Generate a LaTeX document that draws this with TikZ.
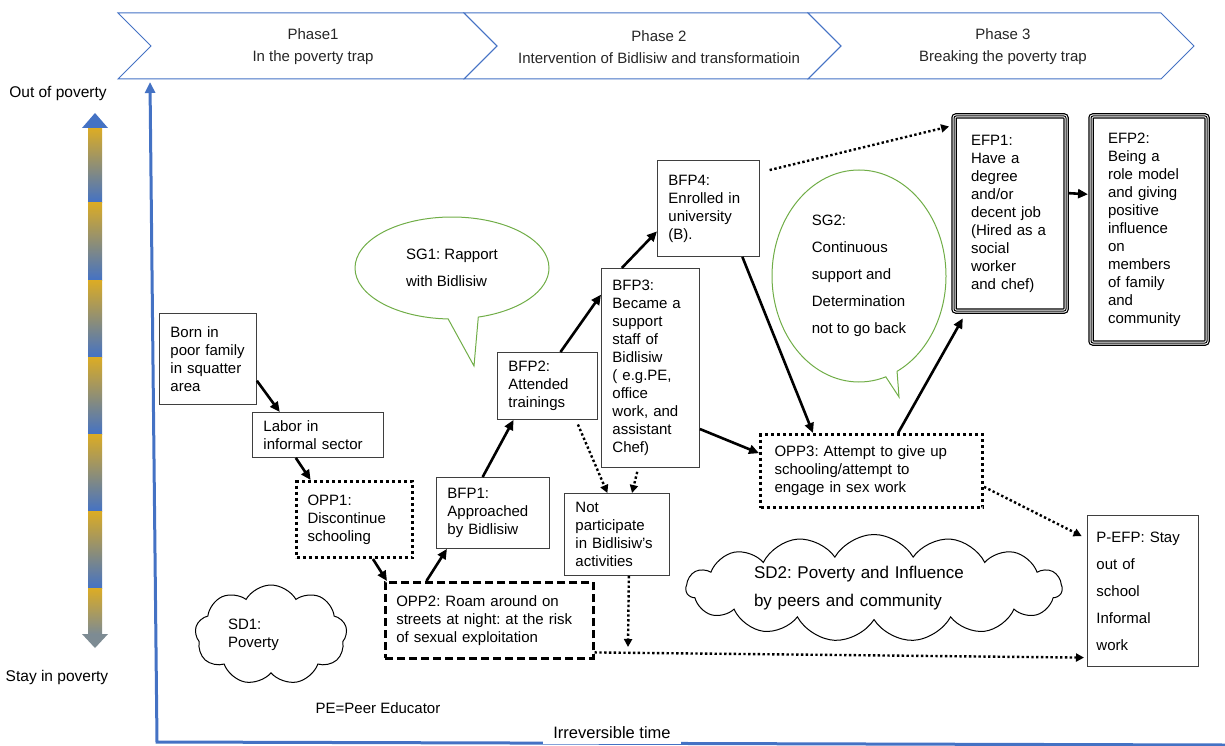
\documentclass[tikz,border=0pt]{standalone}
\usepackage{fontspec}
\setmainfont{Liberation Sans}
\frenchspacing
\usepackage{tikz}
\usetikzlibrary{
  arrows.meta, positioning,
  shapes.symbols, shapes.callouts
}
\definecolor{phaseblue} {HTML}{4472C4}
\definecolor{leafgreen} {HTML}{70AD47}
\definecolor{goldbar}   {HTML}{DCAC24}
\definecolor{slatehead} {HTML}{7D8B93}
\definecolor{boxline}   {HTML}{3F3F3F}
\definecolor{inktext}   {HTML}{262626}
\tikzset{
  stepbox/.style={
    rectangle, anchor=north west, align=left,
    inner xsep=11pt, inner ysep=0pt,
    font=\fontsize{15}{18}\selectfont,
    draw=boxline, line width=0.9pt, text=black
  },
  riskbox/.style={
    stepbox, draw=black, line width=3pt,
    dash pattern=on 3pt off 3pt
  },
  roambox/.style={
    stepbox, draw=black, line width=2.5pt,
    dash pattern=on 8pt off 4pt
  },
  goalbox/.style={
    stepbox, draw=black, line width=1pt, rounded corners=2pt,
    outer sep=3pt, inner xsep=17pt,
    preaction={draw=black, line width=5.5pt},
    preaction={draw=white, line width=3pt}
  },
  sgcall/.style={
    ellipse callout, draw=leafgreen, line width=1pt,
    inner sep=0pt, align=left, callout pointer arc=18,
    font=\fontsize{15}{27}\selectfont
  },
  sdcloud/.style={
    cloud, cloud ignores aspect, cloud puff arc=120,
    draw=black, line width=1pt, inner sep=0pt, align=left
  },
  flowarrow/.style={-{Triangle[length=10pt,width=9pt]}, line width=2.6pt},
  dotarrow/.style={-{Triangle[length=8pt,width=8pt]}, line width=2.4pt,
    dash pattern=on 2.4pt off 2.4pt}
}

\begin{document}
\begin{tikzpicture}[
  x=1pt, y=-1pt,
  every node/.style={align=center},
  phaseline/.style={draw=phaseblue, line width=1pt},
  phasetext/.style={text=inktext, font=\fontsize{15}{22}\selectfont},
  axisline/.style={draw=phaseblue, line width=3pt},
  sidelabel/.style={font=\fontsize{15.5}{18}\selectfont}
]
  \useasboundingbox (0,0) rectangle (1225,746);

  % phases along the top
  \foreach \xa/\xb in {118/464, 464/808, 808/1161}{
    \draw[phaseline] (\xa,13) -- (\xb,13) -- (\xb+33,46)
      -- (\xb,79) -- (\xa,79) -- (\xa+33,46) -- cycle;
  }
  \node[phasetext] (ph1) at (313,47) {Phase1\\In the poverty trap};
  \node[phasetext] (ph2) at (659,47)
    {Phase 2\\Intervention of Bidlisiw and transformatioin};
  \node[phasetext] (ph3) at (1003,47) {Phase 3\\Breaking the poverty trap};

  % axes
  \coordinate (orig) at (157,742);
  \coordinate (ytip) at (150,82);
  \coordinate (xend) at (1225,745);
  \draw[axisline, {Triangle[length=11pt,width=10pt]}-] (ytip) -- (orig) -- (xend);
  \node[fill=white, inner xsep=10pt, inner ysep=5pt,
        font=\fontsize{16.5}{18}\selectfont] (timelbl) at (612,733)
    {Irreversible time};

  % poverty scale
  \foreach \ya/\yb in {128/202, 202/280, 280/357, 357/434, 434/511, 511/588}{
    \shade[top color=goldbar, bottom color=phaseblue] (88,\ya) rectangle (102,\yb);
  }
  \shade[top color=goldbar, bottom color=slatehead] (88,588) rectangle (102,634);
  \fill[phaseblue] (82,128) -- (95,113) -- (108,128) -- cycle;
  \fill[slatehead] (82,634) -- (95,648) -- (108,634) -- cycle;
  \node[sidelabel] (outpov) at (58,94) {Out of poverty};
  \node[sidelabel] (staypov) at (57,677) {Stay in poverty};

  % pathway boxes
  \node[stepbox, text width=75pt, minimum height=91pt] (born) at (159,313)
    {Born in\\poor family\\in squatter\\area};
  \node[stepbox, text width=109pt, minimum height=45pt] (labor) at (252,412)
    {Labor in\\informal sector};
  \node[riskbox, text width=94pt, minimum height=76pt] (opp1) at (295,480)
    {OPP1:\\Discontinue\\schooling};
  \node[roambox, text width=186pt, minimum height=76pt] (opp2) at (384,581)
    {OPP2: Roam around on\\streets at night: at the risk\\of sexual exploitation};
  \node[stepbox, text width=91pt, minimum height=71pt] (bfp1) at (436,477)
    {BFP1:\\Approached\\by Bidlisiw};
  \node[stepbox, text width=78pt, minimum height=67pt] (bfp2) at (497,352)
    {BFP2:\\Attended\\trainings};
  \node[stepbox, text width=76pt, minimum height=199pt] (bfp3) at (601,268)
    {BFP3:\\Became a\\support\\staff of\\Bidlisiw\\( e.g.PE,\\office\\work, and\\assistant\\Chef)};
  \node[stepbox, text width=80pt, minimum height=96pt] (bfp4) at (657,160)
    {BFP4:\\Enrolled in\\university\\(B).};
  \node[stepbox, text width=83pt, minimum height=82pt] (notp) at (564,493)
    {Not\\participate\\in Bidlisiw's\\activities};
  \node[riskbox, inner xsep=14pt, text width=194pt, minimum height=73pt] (opp3) at (759,433)
    {OPP3: Attempt to give up\\schooling/attempt to\\engage in sex work};
  \node[goalbox, text width=78pt, minimum height=195pt] (efp1) at (951,113)
    {EFP1:\\Have a\\degree\\and/or\\decent job\\(Hired as a\\social\\worker\\and chef)};
  \node[goalbox, below right=0pt and 19pt of efp1.north east,
        text width=82pt, minimum height=227pt] (efp2)
    {EFP2:\\Being a\\role model\\and giving\\positive\\influence\\on\\members\\of family\\and\\community};
  \node[stepbox, inner xsep=9pt, text width=93pt, minimum height=151pt,
        font=\fontsize{15}{27}\selectfont] (pefp) at (1087,515)
    {P-EFP: Stay\\out of\\school\\Informal\\work};

  % support and drag
  \coordinate (sg1tip) at (474,366);
  \node[sgcall, minimum width=194pt, minimum height=102pt,
        callout absolute pointer={(sg1tip)}] (sg1) at (452,268)
    {SG1: Rapport\\with Bidlisiw};
  \coordinate (sg2tip) at (899,397);
  \node[sgcall, minimum width=174pt, minimum height=212pt, callout pointer arc=8,
        callout absolute pointer={(sg2tip)}] (sg2) at (859,276)
    {SG2:\\Continuous\\support and\\Determination\\not to go back};
  \node[sdcloud, cloud puffs=9, minimum width=152pt, minimum height=100pt,
        text width=86pt, font=\fontsize{15}{18}\selectfont] (sd1) at (271,635)
    {SD1:\\Poverty};
  \node[sdcloud, cloud puffs=15, minimum width=376pt, minimum height=107pt,
        text width=240pt, font=\fontsize{17}{28}\selectfont] (sd2) at (874,588)
    {SD2: Poverty and Influence\\by peers and community};
  \node[font=\fontsize{15}{18}\selectfont] (penote) at (378,708) {PE=Peer Educator};

  % solid steps
  \draw[flowarrow] (born.-24) -- (labor.149);
  \draw[flowarrow] (labor.-134) -- (opp1.138);
  \draw[flowarrow] (opp1.-65) -- (opp2.159);
  \draw[flowarrow] (opp2.148) -- (bfp1.-142);
  \draw[flowarrow] (bfp1.106) -- (bfp2.-135);
  \draw[flowarrow] (bfp2.69) -- (bfp3.124);
  \draw[flowarrow] (bfp3.106) -- (bfp4.-156);
  \draw[flowarrow] (bfp4.-55) -- (opp3.147);
  \draw[flowarrow] (bfp3.-51) -- (opp3.171);
  \draw[flowarrow, shorten >=5pt] (opp3.55) -- (efp1.-114);
  \draw[flowarrow] (efp1.19) -- (efp2.150);

  % dotted steps
  \coordinate (drop) at (628,647);
  \draw[dotarrow, shorten <=10pt, shorten >=2pt] (bfp4.35) -- (efp1.124);
  \draw[dotarrow, shorten <=5pt] (bfp2.-50) -- (notp.103);
  \draw[dotarrow, shorten <=4pt] (bfp3.-97) -- (notp.70);
  \draw[dotarrow] (notp.-74) -- (drop);
  \draw[dotarrow, shorten >=3pt] (opp2.-17) -- (pefp.-130);
  \draw[dotarrow, shorten >=6pt] (opp3.-8) -- (pefp.137);
\end{tikzpicture}
\end{document}
